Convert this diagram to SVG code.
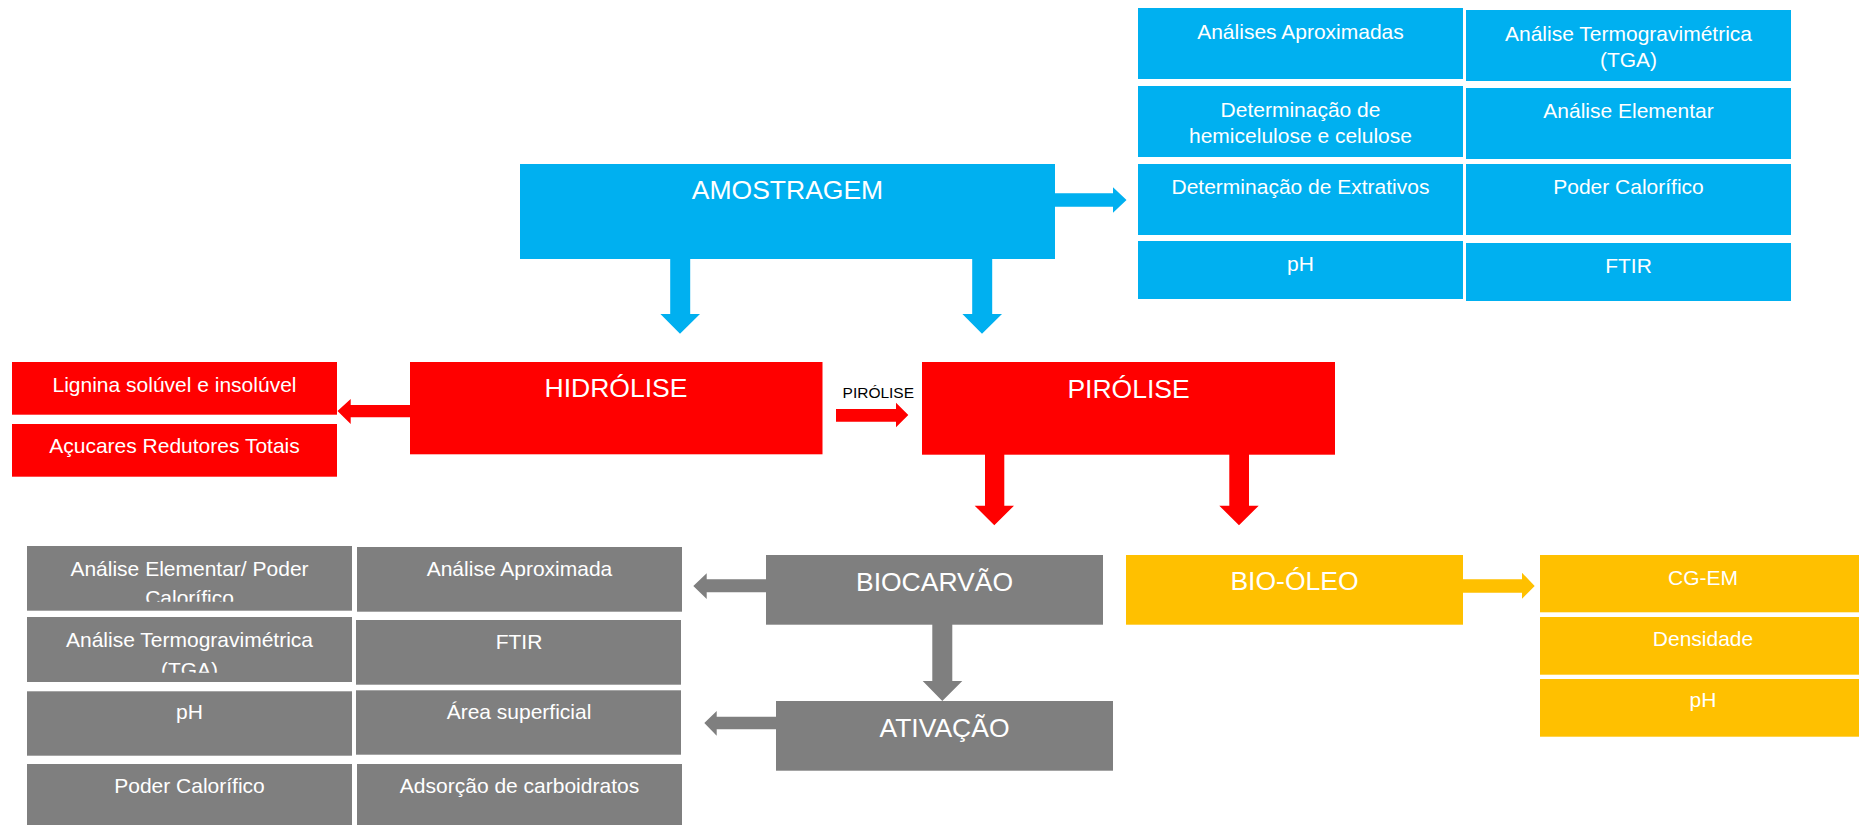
<svg xmlns="http://www.w3.org/2000/svg" width="1859" height="825" viewBox="0 0 1859 825">
<style>
text{font-family:"Liberation Sans",Arial,sans-serif;fill:#fff;text-anchor:middle}
.s{font-size:21px}
.b{font-size:26.5px}
.blue{fill:#00B0F0}
.red{fill:#FF0000}
.gray{fill:#7F7F7F}
.yel{fill:#FFC000}
.lbl{fill:#000;font-size:15.5px}
</style>
<defs>
<clipPath id="c1"><rect x="27" y="546" width="325" height="55.7"/></clipPath>
<clipPath id="c2"><rect x="27" y="617" width="325" height="55.7"/></clipPath>
</defs>
<rect width="1859" height="825" fill="#fff"/>
<g id="connectors">
<polygon class="blue" points="1055,193.3 1113,193.3 1113,187.3 1126.5,200 1113,212.7 1113,206.7 1055,206.7"/>
<polygon class="blue" points="670.2,258 690.2,258 690.2,314 700,314 680,333.7 660.4,314 670.2,314"/>
<polygon class="blue" points="972.2,258 992.2,258 992.2,314 1002,314 982,333.7 962.4,314 972.2,314"/>
<polygon class="red" points="411,405 350.7,405 350.7,399 337.5,411 350.7,424 350.7,417.3 411,417.3"/>
<polygon class="red" points="836,409 896,409 896,402.7 908.3,415 896,427.3 896,421.7 836,421.7"/>
<polygon class="red" points="985,454 1004.3,454 1004.3,505.7 1014,505.7 994.3,525.3 974.7,505.7 985,505.7"/>
<polygon class="red" points="1229.3,454 1249,454 1249,505.7 1258.7,505.7 1239,525.3 1219.3,505.7 1229.3,505.7"/>
<polygon class="gray" points="767,579.3 706.7,579.3 706.7,573.3 693.3,586 706.7,599 706.7,592.3 767,592.3"/>
<polygon class="gray" points="932.3,624 952.3,624 952.3,681 962.3,681 942.3,701 922.7,681 932.3,681"/>
<polygon class="gray" points="777,716.7 716.7,716.7 716.7,711 704.3,723 716.7,735.7 716.7,729.3 777,729.3"/>
<polygon class="yel" points="1462,579.3 1522,579.3 1522,572.7 1534.7,586 1522,598.7 1522,592.7 1462,592.7"/>
<text class="lbl" x="878.3" y="398.3">PIRÓLISE</text>
</g>
<g id="amostragem"><rect class="blue" x="520" y="164" width="535" height="95"/><text class="b" x="787.5" y="198.7">AMOSTRAGEM</text></g>
<g id="blue-analises-aprox"><rect class="blue" x="1138" y="8" width="325" height="71"/><text class="s" x="1300.5" y="39.3">Análises Aproximadas</text></g>
<g id="blue-tga"><rect class="blue" x="1466" y="10" width="325" height="71"/><text class="s" x="1628.5" y="41.3">Análise Termogravimétrica</text><text class="s" x="1628.5" y="66.7">(TGA)</text></g>
<g id="blue-hemicelulose"><rect class="blue" x="1138" y="86" width="325" height="71"/><text class="s" x="1300.5" y="116.7">Determinação de</text><text class="s" x="1300.5" y="142.7">hemicelulose e celulose</text></g>
<g id="blue-elementar"><rect class="blue" x="1466" y="88" width="325" height="71"/><text class="s" x="1628.5" y="118.3">Análise Elementar</text></g>
<g id="blue-extrativos"><rect class="blue" x="1138" y="164" width="325" height="71"/><text class="s" x="1300.5" y="194.3">Determinação de Extrativos</text></g>
<g id="blue-poder"><rect class="blue" x="1466" y="164" width="325" height="71"/><text class="s" x="1628.5" y="194.3">Poder Calorífico</text></g>
<g id="blue-ph"><rect class="blue" x="1138" y="241" width="325" height="58"/><text class="s" x="1300.5" y="271">pH</text></g>
<g id="blue-ftir"><rect class="blue" x="1466" y="243" width="325" height="58"/><text class="s" x="1628.5" y="273.3">FTIR</text></g>
<g id="hidrolise"><rect class="red" x="410" y="362" width="412.5" height="92.3"/><text class="b" x="616" y="396.7">HIDRÓLISE</text></g>
<g id="pirolise"><rect class="red" x="922" y="362" width="413" height="92.7"/><text class="b" x="1128.5" y="397.7">PIRÓLISE</text></g>
<g id="lignina"><rect class="red" x="12" y="362" width="325" height="52.7"/><text class="s" x="174.5" y="392">Lignina solúvel e insolúvel</text></g>
<g id="acucares"><rect class="red" x="12" y="424" width="325" height="52.7"/><text class="s" x="174.5" y="453.3">Açucares Redutores Totais</text></g>
<g id="biocarvao"><rect class="gray" x="766" y="555" width="337" height="69.7"/><text class="b" x="934.5" y="591">BIOCARVÃO</text></g>
<g id="ativacao"><rect class="gray" x="776" y="701" width="337" height="69.7"/><text class="b" x="944.5" y="736.7">ATIVAÇÃO</text></g>
<g id="bio-oleo"><rect class="yel" x="1126" y="555" width="337" height="69.7"/><text class="b" x="1294.5" y="590">BIO-ÓLEO</text></g>
<g id="gray-elementar-poder"><rect class="gray" x="27" y="546" width="325" height="64.7"/><text class="s" x="189.5" y="575.7">Análise Elementar/ Poder</text><text class="s" x="189.5" y="605" clip-path="url(#c1)">Calorífico</text></g>
<g id="gray-aprox"><rect class="gray" x="357" y="547" width="325" height="64.7"/><text class="s" x="519.5" y="575.7">Análise Aproximada</text></g>
<g id="gray-tga"><rect class="gray" x="27" y="617" width="325" height="65"/><text class="s" x="189.5" y="647">Análise Termogravimétrica</text><text class="s" x="189.5" y="676.5" clip-path="url(#c2)">(TGA)</text></g>
<g id="gray-ftir"><rect class="gray" x="356" y="620" width="325" height="64.7"/><text class="s" x="519" y="649.3">FTIR</text></g>
<g id="gray-ph"><rect class="gray" x="27" y="691.3" width="325" height="64.4"/><text class="s" x="189.5" y="719.3">pH</text></g>
<g id="gray-area"><rect class="gray" x="356" y="690.3" width="325" height="64.4"/><text class="s" x="519" y="719.3">Área superficial</text></g>
<g id="gray-poder"><rect class="gray" x="27" y="764" width="325" height="61"/><text class="s" x="189.5" y="792.7">Poder Calorífico</text></g>
<g id="gray-adsorcao"><rect class="gray" x="357" y="764" width="325" height="61"/><text class="s" x="519.5" y="792.7">Adsorção de carboidratos</text></g>
<g id="yel-cgem"><rect class="yel" x="1540" y="555" width="326" height="57.3"/><text class="s" x="1703" y="585">CG-EM</text></g>
<g id="yel-densidade"><rect class="yel" x="1540" y="617" width="326" height="57.7"/><text class="s" x="1703" y="645.7">Densidade</text></g>
<g id="yel-ph"><rect class="yel" x="1540" y="679" width="326" height="57.7"/><text class="s" x="1703" y="706.7">pH</text></g>
</svg>
